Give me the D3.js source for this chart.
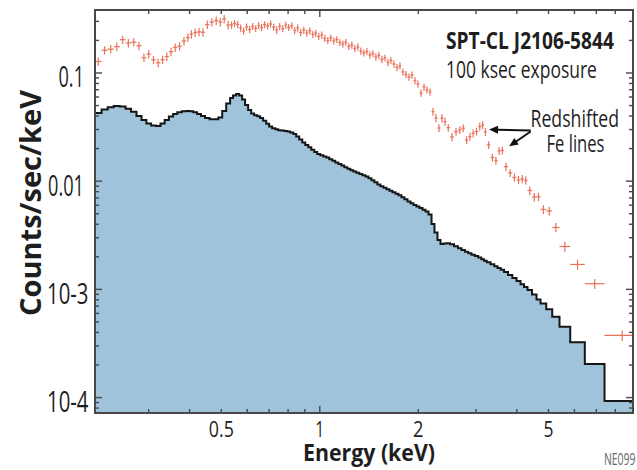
<!DOCTYPE html>
<html>
<head>
<meta charset="utf-8">
<script src="https://cdn.jsdelivr.net/npm/d3@7"></script>
<style>
  html, body { margin: 0; padding: 0; background: #fff; }
  svg { display: block; }
</style>
</head>
<body>
<svg id="chart" width="637" height="470"></svg>
<script>
// X-ray spectrum of SPT-CL J2106-5844: binned counts (crosses) and folded model (filled histogram)

// Energy bin edges, keV
const binEdges = [
  0.2056, 0.2153, 0.2248, 0.2346, 0.2449, 0.2550, 0.2650, 0.2753, 0.2852, 0.2952,
  0.3051, 0.3156, 0.3260, 0.3357, 0.3458, 0.3562, 0.3669, 0.3787, 0.3903, 0.4000,
  0.4106, 0.4217, 0.4335, 0.4461, 0.4605, 0.4753, 0.4896, 0.5032, 0.5176, 0.5320,
  0.543, 0.555, 0.567, 0.579, 0.591, 0.604, 0.617, 0.630, 0.644, 0.657,
  0.671, 0.686, 0.700, 0.715, 0.731, 0.746, 0.762, 0.779, 0.795, 0.812,
  0.830, 0.847, 0.865, 0.884, 0.903, 0.922, 0.942, 0.962, 0.982, 1.003,
  1.025, 1.047, 1.069, 1.092, 1.115, 1.139, 1.164, 1.188, 1.214, 1.240,
  1.266, 1.293, 1.321, 1.349, 1.378, 1.408, 1.438, 1.468, 1.500, 1.532,
  1.565, 1.598, 1.632, 1.667, 1.703, 1.739, 1.776, 1.814, 1.853, 1.893,
  1.933, 1.974, 2.017, 2.060, 2.104, 2.149, 2.195,
  2.241, 2.289, 2.338, 2.388, 2.439, 2.500, 2.571, 2.645, 2.710, 2.778,
  2.843, 2.908, 2.976, 3.049, 3.116, 3.176, 3.237, 3.324, 3.414, 3.492,
  3.572, 3.656, 3.760, 3.876, 3.992, 4.106, 4.208, 4.313, 4.452, 4.595,
  4.726, 4.920, 5.132, 5.402, 5.825, 6.455, 7.415, 9.512
];

// Observed count rate per bin, counts/sec/keV
const dataRate = [
  0.1277, 0.1624, 0.1660, 0.1751, 0.2031, 0.1894, 0.1926, 0.1784, 0.1385, 0.1498,
  0.1324, 0.1243, 0.1327, 0.1420, 0.1573, 0.1721, 0.1769, 0.1976, 0.2120, 0.2279,
  0.2368, 0.2395, 0.2380, 0.2796, 0.2948, 0.3056, 0.2960, 0.3156, 0.2778,
  0.2778, 0.2867, 0.2807, 0.2606, 0.2444, 0.2662, 0.2524, 0.2690, 0.2578, 0.2748,
  0.2634, 0.2795, 0.2719, 0.2837, 0.2655, 0.2497, 0.2702, 0.2565, 0.2770, 0.2641,
  0.2728, 0.2471, 0.2606, 0.2368, 0.2488, 0.2343, 0.2450, 0.2270, 0.2335, 0.2175,
  0.2246, 0.2084, 0.1997, 0.2106, 0.1976, 0.2040, 0.1914, 0.1853, 0.1921, 0.1757,
  0.1815, 0.1684, 0.1739, 0.1596, 0.1530, 0.1579, 0.1466, 0.1514, 0.1405, 0.1451,
  0.1333, 0.1376, 0.1250, 0.1305, 0.1211, 0.1124, 0.1161, 0.1021, 0.0969, 0.0918,
  0.0958, 0.0852, 0.0791, 0.0653, 0.0742, 0.0697, 0.0667,
  0.04388, 0.03838, 0.03101, 0.03815, 0.03547, 0.03120, 0.02562, 0.02868, 0.02973, 0.03085,
  0.02403, 0.02578, 0.02771, 0.02880, 0.03189, 0.03307, 0.02850, 0.02161, 0.01656, 0.01547,
  0.01902, 0.01922, 0.01362, 0.01191, 0.01082, 0.01026, 0.01048, 0.01018, 0.00820, 0.00714,
  0.00718, 0.00548, 0.00530, 0.003734, 0.002491, 0.001699, 0.001129, 0.000375
];

// 1-sigma uncertainty on the observed rate
const dataErr = [
  0.0115, 0.0146, 0.0149, 0.0158, 0.0183, 0.0170, 0.0173, 0.0161, 0.0125, 0.0135,
  0.0119, 0.0112, 0.0119, 0.0128, 0.0142, 0.0155, 0.0159, 0.0178, 0.0191, 0.0205,
  0.0213, 0.0215, 0.0214, 0.0252, 0.0265, 0.0275, 0.0266, 0.0284, 0.0250,
  0.021, 0.022, 0.021, 0.020, 0.018, 0.020, 0.019, 0.020, 0.019, 0.021,
  0.020, 0.021, 0.020, 0.021, 0.020, 0.019, 0.020, 0.019, 0.021, 0.020,
  0.020, 0.019, 0.020, 0.018, 0.019, 0.018, 0.018, 0.017, 0.018, 0.016,
  0.017, 0.016, 0.015, 0.016, 0.015, 0.015, 0.014, 0.014, 0.014, 0.013,
  0.014, 0.013, 0.013, 0.012, 0.011, 0.012, 0.011, 0.011, 0.011, 0.011,
  0.010, 0.010, 0.0094, 0.0098, 0.0091, 0.0084, 0.0087, 0.0077, 0.0073, 0.0069,
  0.0072, 0.0064, 0.0059, 0.0049, 0.0056, 0.0052, 0.0050,
  0.0037, 0.0033, 0.0026, 0.0033, 0.0030, 0.0026, 0.0022, 0.0024, 0.0025, 0.0026,
  0.0020, 0.0022, 0.0024, 0.0024, 0.0027, 0.0028, 0.0024, 0.0018, 0.0014, 0.0013,
  0.0016, 0.0016, 0.0012, 0.0010, 0.00095, 0.00090, 0.00092, 0.00090, 0.00074, 0.00065,
  0.00065, 0.00052, 0.00050, 0.00037, 0.00026, 0.00018, 0.00012, 0.000042
];

// Folded model rate per bin, counts/sec/keV
const modelRate = [
  0.04268, 0.04599, 0.04819, 0.04954, 0.04901, 0.04668, 0.04379, 0.04004, 0.03678, 0.03413,
  0.03271, 0.03237, 0.03413, 0.03678, 0.03962, 0.04179, 0.04332, 0.04426, 0.04454, 0.04426,
  0.04341, 0.04179, 0.04004, 0.03838, 0.03734, 0.03734, 0.03879, 0.04454, 0.05224,
  0.05874, 0.06194, 0.06395, 0.06194, 0.05689, 0.05061, 0.04550, 0.04223, 0.04073, 0.03979,
  0.03838, 0.03624, 0.03399, 0.03203, 0.03083, 0.03018, 0.02961, 0.02936, 0.02911, 0.02880,
  0.02819, 0.02731, 0.02589, 0.02429, 0.02279, 0.02161, 0.02057, 0.01954, 0.01861, 0.01784,
  0.01735, 0.01691, 0.01656, 0.01597, 0.01544, 0.01489, 0.01442, 0.01394, 0.01347, 0.01302,
  0.01261, 0.01229, 0.01198, 0.01165, 0.01133, 0.01105, 0.01063, 0.01019, 0.009769, 0.009322,
  0.008973, 0.008690, 0.008417, 0.008152, 0.007896, 0.007648, 0.007408, 0.007114, 0.006803, 0.006495,
  0.006251, 0.006027, 0.005838, 0.005654, 0.005453, 0.005248, 0.004924,
  0.004023, 0.003357, 0.002860, 0.002628, 0.002656, 0.002668, 0.002611, 0.002502, 0.002398, 0.002313,
  0.002231, 0.002157, 0.002094, 0.002036, 0.001972, 0.001898, 0.001842, 0.001781, 0.001706, 0.001635,
  0.001577, 0.001518, 0.001448, 0.001359, 0.001275, 0.001196, 0.001114, 0.001052, 0.000987, 0.000897,
  0.000807, 0.000741, 0.000655, 0.000559, 0.000452, 0.000324, 0.000204, 0.000093
];

// Axis tick labels
const xTickValues = [0.5, 1, 2, 5];
const xTickText = ["0.5", "1", "2", "5"];
const yTickValues = [0.1, 0.01, 0.001, 0.0001];
const yTickText = ["0.1", "0.01", "10-3", "10-4"];

// Arrows pointing at the redshifted Fe lines: [energy keV, rate]
const feArrowTails = [[4.41, 0.0294], [4.41, 0.0288]];
const feArrowTips = [[3.29, 0.0300], [3.79, 0.0210]];

// ---------------------------------------------------------------
const svg = d3.select("#chart");
const plot = { left: 95, right: 633, top: 10, bottom: 413 };
const FONT = "'Open Sans','Noto Sans','DejaVu Sans Condensed',sans-serif";

const x = d3.scaleLog().domain([0.2056, 9.06]).range([plot.left, plot.right]);
const y = d3.scaleLog().domain([7.2e-5, 0.382]).range([plot.bottom, plot.top]);

const nBins = Math.min(binEdges.length - 1, dataRate.length, dataErr.length, modelRate.length);
const bins = d3.range(nBins).map(i => ({
  lo: binEdges[i], hi: binEdges[i + 1],
  rate: dataRate[i], err: dataErr[i], model: modelRate[i]
}));

svg.append("defs").append("clipPath").attr("id", "plotClip")
  .append("rect")
  .attr("x", plot.left).attr("y", plot.top)
  .attr("width", plot.right - plot.left).attr("height", plot.bottom - plot.top);

const body = svg.append("g").attr("clip-path", "url(#plotClip)");

// Model histogram: steps over each bin, closed by the last bin's upper edge
const stepPts = bins.map(b => [b.lo, b.model]);
stepPts.push([bins[nBins - 1].hi, bins[nBins - 1].model]);

body.append("path")
  .datum(stepPts)
  .attr("fill", "#9ec3db")
  .attr("d", d3.area()
    .x(d => x(d[0])).y0(plot.bottom).y1(d => y(d[1]))
    .curve(d3.curveStepAfter));

body.append("path")
  .datum(stepPts)
  .attr("fill", "none")
  .attr("stroke", "#161616")
  .attr("stroke-width", 2)
  .attr("stroke-linejoin", "miter")
  .attr("d", d3.line()
    .x(d => x(d[0])).y(d => y(d[1]))
    .curve(d3.curveStepAfter));

// Data: horizontal bar spans the bin, vertical bar spans +/- 1 sigma
const cross = body.append("g")
  .attr("stroke", "#e9705a")
  .attr("stroke-width", 1.2)
  .attr("fill", "none");

cross.selectAll("line.xbar").data(bins).join("line")
  .attr("class", "xbar")
  .attr("x1", d => x(d.lo)).attr("x2", d => x(d.hi))
  .attr("y1", d => y(d.rate)).attr("y2", d => y(d.rate));

cross.selectAll("line.ybar").data(bins).join("line")
  .attr("class", "ybar")
  .attr("x1", d => x(Math.sqrt(d.lo * d.hi))).attr("x2", d => x(Math.sqrt(d.lo * d.hi)))
  .attr("y1", d => y(d.rate - d.err)).attr("y2", d => y(d.rate + d.err));

// Frame and inward ticks on all four sides
const axisColor = "#484848";
const ticks = svg.append("g").attr("stroke", axisColor).attr("stroke-width", 1.4);
const isDecade = v => Math.abs(Math.log10(v) - Math.round(Math.log10(v))) < 1e-6;

x.ticks().forEach(v => {
  const px = x(v);
  if (px <= plot.left + 1 || px >= plot.right - 1) return;
  const len = isDecade(v) ? 7 : 4;
  ticks.append("line").attr("x1", px).attr("x2", px)
    .attr("y1", plot.bottom).attr("y2", plot.bottom - len);
  ticks.append("line").attr("x1", px).attr("x2", px)
    .attr("y1", plot.top).attr("y2", plot.top + len);
});

y.ticks().forEach(v => {
  const py = y(v);
  if (py <= plot.top + 1 || py >= plot.bottom - 1) return;
  const len = isDecade(v) ? 7 : 4;
  ticks.append("line").attr("y1", py).attr("y2", py)
    .attr("x1", plot.left).attr("x2", plot.left + len);
  ticks.append("line").attr("y1", py).attr("y2", py)
    .attr("x1", plot.right).attr("x2", plot.right - len);
});

svg.append("rect")
  .attr("x", plot.left).attr("y", plot.top)
  .attr("width", plot.right - plot.left).attr("height", plot.bottom - plot.top)
  .attr("fill", "none").attr("stroke", axisColor).attr("stroke-width", 2);

// Text helper: draws at the origin, then squeezes horizontally to the wanted width
function addText(parent, str, o) {
  const t = parent.append("text")
    .text(str)
    .attr("x", 0).attr("y", 0)
    .attr("font-family", FONT)
    .attr("font-size", o.size)
    .attr("font-weight", o.weight || 400)
    .attr("text-anchor", o.anchor || "start")
    .attr("fill", o.fill || "#1e1e1e");
  let sx = 1;
  if (o.width) {
    const natural = t.node().getComputedTextLength();
    if (natural > 0) sx = o.width / natural;
  }
  t.attr("transform", `translate(${o.x},${o.y}) rotate(${o.rotate || 0}) scale(${sx},1)`);
  return t;
}

const labels = svg.append("g");

// X tick labels
const xLabelWidth = { "0.5": 25, "1": 9, "2": 10.5, "5": 10 };
xTickValues.forEach((v, i) => {
  addText(labels, xTickText[i], {
    x: x(v), y: 437, size: 22.5, anchor: "middle", width: xLabelWidth[xTickText[i]]
  });
});

// Y tick labels
const yLabelWidth = { "0.1": 25.5, "0.01": 36, "10-3": 41.5, "10-4": 41.5 };
yTickValues.forEach((v, i) => {
  const s = yTickText[i];
  const isPow = s.indexOf("-") >= 0;
  addText(labels, s, {
    x: isPow ? 88.5 : 84, y: y(v) + 14.5, size: 29, anchor: "end", width: yLabelWidth[s]
  });
});

// Axis titles
addText(labels, "Energy (keV)", { x: 369, y: 460.5, size: 23.5, weight: 700, anchor: "middle", width: 132 });
addText(labels, "Counts/sec/keV", { x: 41, y: 203, size: 29, weight: 700, anchor: "middle", width: 226, rotate: -90 });

// Annotations
addText(labels, "SPT-CL J2106-5844", { x: 446, y: 48.5, size: 23, weight: 700, width: 168 });
addText(labels, "100 ksec exposure", { x: 446, y: 77.5, size: 24, width: 151 });
addText(labels, "Redshifted", { x: 530.5, y: 126.7, size: 23, width: 88.5 });
addText(labels, "Fe lines", { x: 546.5, y: 151.7, size: 23, width: 58 });
addText(labels, "NE099", { x: 604, y: 465, size: 16, width: 31.5, fill: "#666666" });

// Arrows
const arrows = svg.append("g");
feArrowTails.forEach((tail, i) => {
  const tip = feArrowTips[i];
  const x0 = x(tail[0]), y0 = y(tail[1]);
  const x1 = x(tip[0]), y1 = y(tip[1]);
  const dx = x1 - x0, dy = y1 - y0, L = Math.hypot(dx, dy);
  const ux = dx / L, uy = dy / L;
  const headLen = 9, headHalf = 4;
  const bx = x1 - ux * headLen, by = y1 - uy * headLen;
  arrows.append("line")
    .attr("x1", x0).attr("y1", y0).attr("x2", bx + ux * 1).attr("y2", by + uy * 1)
    .attr("stroke", "#111").attr("stroke-width", 2);
  arrows.append("path")
    .attr("d", `M${x1},${y1} L${bx - uy * headHalf},${by + ux * headHalf} L${bx + uy * headHalf},${by - ux * headHalf} Z`)
    .attr("fill", "#111");
});
</script>
</body>
</html>
